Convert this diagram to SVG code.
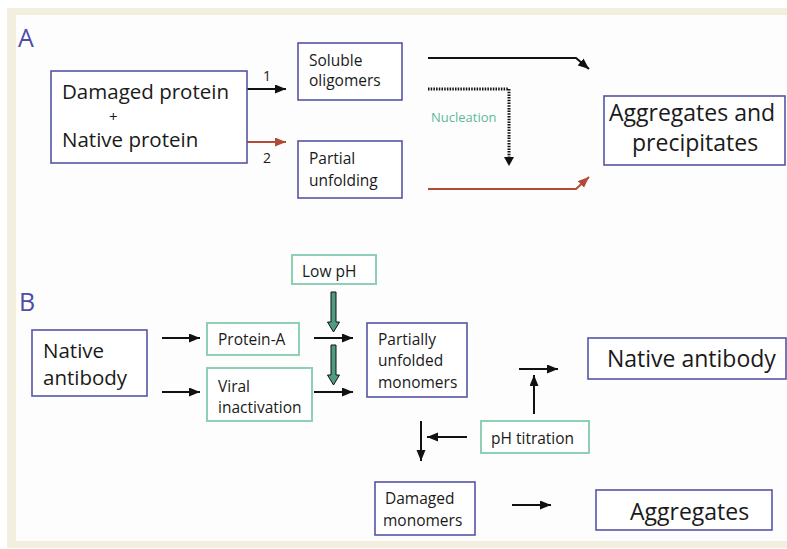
<svg xmlns="http://www.w3.org/2000/svg" width="787" height="549" viewBox="0 0 787 549">
<style>
text{font-family:"Open Sans","Liberation Sans",sans-serif;fill:#1a1a1a}
.big{font-size:20.5px}
.plus{font-size:15px}
.lg{font-size:23px}
.sm{font-size:15.5px}
.lbl{font-size:25px;fill:#4d4da6}
.num{font-size:14px}
.nuc{font-size:13px;fill:#5db898}
.bb{fill:#fff;stroke:#5555a5;stroke-width:1.6}
.gb{fill:#fff;stroke:#8fcfb4;stroke-width:2}
.ar{fill:none;stroke:#111;stroke-width:2}
.ar.red{stroke:#b14b37}
.dot{fill:none;stroke:#111;stroke-width:3;stroke-dasharray:1.5 1.2}
.blk{fill:#4f9c80;stroke:#111;stroke-width:1}
</style>
<defs>
<marker id="ah" markerUnits="userSpaceOnUse" markerWidth="12" markerHeight="10" refX="11" refY="4.5" orient="auto"><path d="M0,0 L11,4.5 L0,9 z" fill="#111"/></marker>
<marker id="ahr" markerUnits="userSpaceOnUse" markerWidth="12" markerHeight="10" refX="11" refY="4.5" orient="auto"><path d="M0,0 L11,4.5 L0,9 z" fill="#b14b37"/></marker>
</defs>
<rect width="787" height="549" fill="#fff"/>
<rect x="7" y="8" width="780" height="540" fill="#f2efe0"/>
<rect x="16" y="15" width="771" height="526" fill="#fdfdfd"/>

<text class="lbl" x="18" y="47">A</text>
<text class="lbl" x="19" y="311">B</text>

<g id="connectors">
<path class="ar" d="M238,89 H286" marker-end="url(#ah)"/>
<path class="ar red" d="M238,142 H286" marker-end="url(#ahr)"/>
<path class="ar" d="M428,58 H576 L589,69" marker-end="url(#ah)"/>
<path class="dot" d="M428,89 H509 V158"/>
<path d="M504,157 L514,157 L509,166 z" fill="#111"/>
<path class="ar red" d="M428,189 H576 L589,177" marker-end="url(#ahr)"/>
<path class="ar" d="M162,338 H200" marker-end="url(#ah)"/>
<path class="ar" d="M162,392 H200" marker-end="url(#ah)"/>
<path class="ar" d="M314,338 H353" marker-end="url(#ah)"/>
<path class="ar" d="M314,392 H353" marker-end="url(#ah)"/>
<polygon class="blk" points="331,292 336,292 336,322 339.5,322 333.5,332 327.5,322 331,322"/>
<polygon class="blk" points="331,345 336,345 336,375 339.5,375 333.5,385 327.5,375 331,375"/>
<path class="ar" d="M534,414 V375" marker-end="url(#ah)"/>
<path class="ar" d="M519,369 H558" marker-end="url(#ah)"/>
<path class="ar" d="M467,437 H427" marker-end="url(#ah)"/>
<path class="ar" d="M421,421 V461" marker-end="url(#ah)"/>
<path class="ar" d="M512,505 H551" marker-end="url(#ah)"/>
<text class="num" x="263" y="81">1</text>
<text class="num" x="263" y="163">2</text>
<text class="nuc" x="431" y="122">Nucleation</text>
</g>

<g id="mix">
<rect class="bb" x="51" y="71" width="196" height="92"/>
<text class="big" x="62" y="99">Damaged protein</text>
<text class="plus" x="109" y="121.5">+</text>
<text class="big" x="62" y="147">Native protein</text>
</g>
<g id="soluble">
<rect class="bb" x="298" y="43" width="104" height="57"/>
<text class="sm" x="309" y="66">Soluble</text>
<text class="sm" x="309" y="86">oligomers</text>
</g>
<g id="partial">
<rect class="bb" x="298" y="141" width="104" height="57"/>
<text class="sm" x="309" y="164">Partial</text>
<text class="sm" x="309" y="186">unfolding</text>
</g>
<g id="aggprec">
<rect class="bb" x="604" y="96" width="181" height="69"/>
<text class="lg" x="609" y="121">Aggregates and</text>
<text class="lg" x="632" y="151">precipitates</text>
</g>

<g id="native">
<rect class="bb" x="32" y="330" width="115" height="66"/>
<text class="big" x="43" y="358">Native</text>
<text class="big" x="43" y="385">antibody</text>
</g>
<g id="proteinA">
<rect class="gb" x="207" y="323" width="92" height="32"/>
<text class="sm" x="218" y="345">Protein-A</text>
</g>
<g id="viral">
<rect class="gb" x="207" y="368" width="105" height="53"/>
<text class="sm" x="218" y="392">Viral</text>
<text class="sm" x="218" y="413">inactivation</text>
</g>
<g id="lowph">
<rect class="gb" x="292" y="255" width="84" height="29"/>
<text class="sm" x="302" y="277">Low pH</text>
</g>
<g id="unfolded">
<rect class="bb" x="367" y="323" width="100" height="74"/>
<text class="sm" x="378" y="345">Partially</text>
<text class="sm" x="378" y="366">unfolded</text>
<text class="sm" x="378" y="388">monomers</text>
</g>
<g id="nativeab">
<rect class="bb" x="588" y="338" width="198" height="41"/>
<text class="lg" x="607" y="367">Native antibody</text>
</g>
<g id="phtit">
<rect class="gb" x="481" y="421" width="108" height="32"/>
<text class="sm" x="491" y="444">pH titration</text>
</g>
<g id="damaged">
<rect class="bb" x="375" y="482" width="100" height="53"/>
<text class="sm" x="385" y="504">Damaged</text>
<text class="sm" x="383" y="526">monomers</text>
</g>
<g id="aggregates">
<rect class="bb" x="596" y="490" width="176" height="40"/>
<text class="lg" x="630" y="520">Aggregates</text>
</g>
</svg>
